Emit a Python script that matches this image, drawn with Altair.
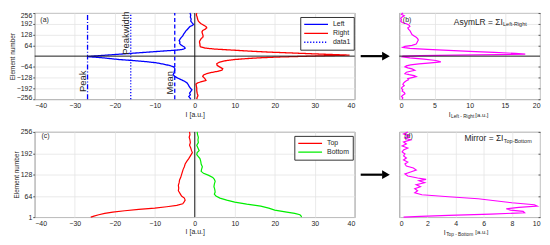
import altair as alt
import pandas as pd

# ---------------- data ----------------
# panel (a): intensity profiles vs element number (-256..256)
left_elem = [256, 244, 232, 220, 208, 196, 188, 182, 176, 168, 160, 150, 140, 130, 120, 110, 100, 92, 84, 76,
             68, 60, 54, 48, 44, 40, 36, 30, 24, 18, 12, 6, 0, -3, -6, -10, -15, -20, -26, -33,
             -40, -48, -56, -64, -72, -80, -90, -100, -110, -120, -130, -140, -150, -160, -170, -180, -190, -200, -210, -220,
             -230, -240, -248, -256]
left_val = [-1.2, -1.0, -1.1, -0.9, -1.0, -0.6, -0.3, -0.6, -1.2, -1.5, -1.8, -2.2, -2.5, -2.8, -3.0, -3.4, -3.7, -3.9, -3.7, -3.8,
            -3.5, -3.0, -2.6, -2.4, -2.6, -3.0, -4.5, -8.0, -11.5, -15.0, -18.5, -22.0, -25.5, -26.8, -25.0, -23.0, -21.0, -19.0, -15.5, -12.0,
            -9.5, -7.8, -6.2, -5.3, -5.0, -5.0, -5.1, -5.2, -5.4, -5.0, -4.3, -3.4, -2.5, -1.9, -1.6, -1.4, -1.1, -0.7, -1.0, -1.3,
            -1.1, -1.5, -1.2, -1.0]
right_elem = [256, 244, 232, 220, 208, 200, 192, 184, 176, 168, 160, 152, 144, 136, 128, 120, 112, 104, 96, 88,
              80, 72, 64, 56, 48, 42, 36, 30, 24, 18, 12, 6, 2, -2, -5, -9, -14, -20, -28, -37,
              -45, -55, -65, -75, -83, -90, -97, -104, -112, -120, -128, -136, -144, -150, -158, -166, -176, -190, -205, -220,
              -235, -245, -256]
right_val = [0.5, 0.4, 0.6, 0.7, 0.9, 1.2, 1.6, 2.2, 2.8, 3.0, 2.6, 2.0, 1.8, 1.9, 2.0, 2.1, 2.0, 1.6, 1.4, 1.2,
             1.2, 1.3, 1.3, 1.4, 2.5, 5.0, 9.3, 13.5, 18.5, 25.0, 31.5, 38.7, 32.0, 26.0, 21.5, 17.0, 13.4, 10.0, 7.5, 6.1,
             5.5, 5.6, 6.3, 7.0, 6.8, 5.8, 4.2, 3.0, 2.2, 2.0, 2.3, 2.6, 2.8, 2.0, 0.8, 0.3, 0.4, 0.5, 0.5, 0.6,
             0.8, 0.6, 0.5]
peak_x = -26.8
peakwidth_x = -16.0
mean_x = -5.0

# panel (b): AsymLR
asym_elem = [256, 248, 240, 232, 224, 216, 208, 200, 192, 184, 176, 168, 160, 152, 144, 136, 128, 120, 112, 104,
             96, 88, 80, 72, 64, 58, 52, 46, 40, 34, 28, 22, 16, 12, 9, 6, 3, 0, -4, -10,
             -18, -26, -34, -40, -46, -52, -58, -64, -70, -76, -84, -90, -96, -104, -110, -116, -122, -128, -134, -140,
             -146, -152, -160, -168, -176, -184, -192, -200, -208, -216, -224, -232, -240, -248, -256]
asym_val = [0.5, 0.3, 0.7, 0.4, 0.2, 0.3, 0.2, 0.4, 1.0, 1.4, 1.5, 1.2, 1.3, 1.5, 1.6, 1.7, 1.8, 2.1, 2.4, 2.6,
            2.7, 2.6, 2.5, 2.4, 1.8, 0.8, 0.5, 1.5, 4.0, 7.0, 10.0, 13.5, 16.5, 17.9, 14.0, 8.0, 3.0, 0.5, 0.4, 1.5,
            3.5, 5.2, 5.9, 4.5, 2.8, 1.6, 1.0, 0.8, 1.2, 1.8, 2.2, 1.6, 1.0, 0.8, 1.4, 2.1, 2.4, 1.8, 1.2, 1.3,
            1.0, 0.8, 0.6, 0.5, 0.7, 0.4, 0.3, 0.5, 0.4, 0.7, 0.8, 0.5, 0.3, 0.5, 0.4]

# panel (c): Top / Bottom (element 1..256)
top_elem = [256, 248, 240, 232, 224, 216, 208, 200, 194, 188, 182, 176, 168, 160, 152, 144, 136, 128, 120, 112,
            104, 96, 88, 80, 72, 64, 58, 52, 46, 41, 36, 32, 28, 24, 20, 16, 12, 8, 4, 1]
top_val = [-1.3, -1.2, -1.4, -1.2, -1.1, -1.3, -1.0, -0.8, -0.6, -0.9, -1.2, -1.5, -2.0, -2.4, -2.6, -2.9, -3.1, -3.3, -3.5, -3.8,
           -3.9, -4.1, -4.0, -4.1, -3.7, -3.3, -2.6, -2.4, -2.7, -3.0, -4.5, -7.0, -10.0, -14.0, -17.5, -20.5, -22.5, -24.0, -25.2, -26.0]
bottom_elem = [256, 248, 240, 232, 224, 216, 208, 200, 194, 188, 182, 176, 168, 160, 152, 144, 138, 132, 126, 120,
               114, 108, 100, 92, 84, 76, 70, 64, 58, 52, 46, 40, 34, 28, 22, 16, 12, 8, 4, 1]
bottom_val = [0.6, 0.7, 0.9, 0.8, 0.9, 0.5, 0.8, 1.1, 0.6, 0.5, 0.9, 1.3, 1.5, 1.6, 1.9, 1.7, 1.6, 2.2, 3.5, 4.5,
              4.9, 5.1, 4.9, 4.8, 5.0, 5.1, 4.9, 5.3, 6.3, 8.0, 10.0, 13.0, 16.5, 18.5, 20.0, 23.0, 25.0, 26.3, 26.6, 26.7]

# panel (d): Mirror
mirror_elem = [256, 250, 244, 238, 232, 226, 220, 214, 208, 202, 196, 190, 184, 178, 172, 166, 160, 154, 148, 142,
               136, 130, 124, 118, 114, 110, 104, 98, 92, 86, 80, 74, 68, 62, 56, 50, 44, 38, 34, 30,
               26, 22, 18, 14, 10, 6, 3, 1]
mirror_val = [0.6, 0.3, 0.7, 0.4, 0.8, 0.3, 0.5, 0.2, 0.6, 0.3, 0.2, 0.4, 0.3, 0.5, 0.3, 0.6, 0.4, 0.5, 1.0, 1.2,
              0.8, 0.4, 0.6, 1.3, 1.9, 1.4, 1.8, 1.2, 1.5, 1.1, 1.3, 1.1, 1.6, 3.5, 5.6, 6.8, 8.0, 9.6, 9.8, 8.5,
              7.6, 7.9, 8.8, 8.9, 6.5, 3.5, 1.5, 0.3]

# ticks
a_xticks = [-40, -30, -20, -10, 0, 10, 20, 30, 40]
a_yticks = [-256, -192, -128, -64, 64, 128, 192, 256]
c_yticks = [1, 64, 128, 192, 256]
b_xticks = [0, 5, 10, 15, 20]
d_xticks = [0, 2, 4, 6, 8, 10]
arrow_b_elem = 0
arrow_d_elem = 128

# ---------------- layout ----------------
W_A, H_A = 323, 87
W_B = 142
H_C = 86
FONT = "Liberation Sans"
TXT = "#262626"
BLUE, RED, GREEN, MAG = "#0000ff", "#ff0000", "#00ee00", "#ff00ff"


def long_df(parts):
    rows = []
    for name, el, va in parts:
        for e, v in zip(el, va):
            rows.append({"series": name, "elem": e, "val": v})
    return pd.DataFrame(rows)


def txt(df, **kw):
    return alt.Chart(df).mark_text(font=FONT, color=TXT, **kw)


def side_axis(vals):
    return alt.Axis(values=vals, orient="right", labels=False, title=None, tickSize=2,
                    offset=-2, domain=False, grid=True)


def x_axis(vals, title):
    return alt.Axis(values=vals, title=title, ticks=False, labelFontSize=7, titleFontSize=7,
                    titlePadding=2, labelPadding=2, grid=True, domain=False)


# ---------- panel (a) ----------
xa = alt.X("val:Q", scale=alt.Scale(domain=[-40, 40], nice=False, zero=False), axis=x_axis(a_xticks, "I [a.u.]"))
ya = alt.Y("elem:Q", scale=alt.Scale(domain=[-256, 256], nice=False),
           axis=alt.Axis(values=a_yticks, title="Element number", labelFontSize=7, titleFontSize=6.5,
                         titlePadding=1, labelPadding=1, tickSize=2, labelFlush=True, labelFlushOffset=1,
                         grid=True, domain=False))
vline = [-256, 256]
df_a = long_df([("Left", left_elem, left_val), ("Right", right_elem, right_val),
                ("data1", vline, [peakwidth_x, peakwidth_x]), ("Peak", vline, [peak_x, peak_x]),
                ("Mean", vline, [mean_x, mean_x])])
a_dom = ["Left", "Right", "data1", "Peak", "Mean"]
leg_a = alt.Legend(title=None, orient="none", legendX=W_A - 55, legendY=4, values=["Left", "Right", "data1"],
                   symbolType="stroke", symbolSize=576, clipHeight=9, labelFontSize=7, symbolStrokeWidth=1.3,
                   strokeColor="#333", fillColor="white", padding=3, rowPadding=0, labelOffset=4, labelColor=TXT)
lines_a = alt.Chart(df_a).mark_line().encode(
    x=xa, y=ya, order="elem:Q",
    color=alt.Color("series:N", scale=alt.Scale(domain=a_dom, range=[BLUE, RED, BLUE, BLUE, BLUE]), legend=leg_a),
    strokeDash=alt.StrokeDash("series:N", scale=alt.Scale(domain=a_dom, range=[[1, 0], [1, 0], [1.2, 1.8], [5, 2, 1, 2], [4, 2.5]]), legend=leg_a),
    strokeWidth=alt.StrokeWidth("series:N", scale=alt.Scale(domain=a_dom, range=[1.3, 1.3, 0.9, 0.8, 0.8]), legend=None),
)
zero_h_a = alt.Chart(pd.DataFrame({"elem": [0]})).mark_rule(color="#1a1a1a", strokeWidth=1).encode(y=ya)
zero_v_a = alt.Chart(pd.DataFrame({"val": [0]})).mark_rule(color="#1a1a1a", strokeWidth=1).encode(x=xa)
ann_a = pd.DataFrame({"label": ["Peak", "Peakwidth", "Mean"], "val": [peak_x, peakwidth_x, mean_x], "elem": [-150, 137, -158]})
ann_a_t = txt(ann_a, angle=270, baseline="bottom", align="center", fontSize=9.5).encode(x=xa, y=ya, text="label:N")
lab_a = txt(pd.DataFrame({"label": ["(a)"], "val": [-38.6], "elem": [216]}), align="left", fontSize=7).encode(x=xa, y=ya, text="label:N")
panel_a = alt.layer(lines_a, zero_h_a, zero_v_a, ann_a_t, lab_a).properties(width=W_A, height=H_A)

# ---------- panel (b) ----------
xb = alt.X("val:Q", scale=alt.Scale(domain=[0, 20], nice=False), axis=x_axis(b_xticks, None))
yb = alt.Y("elem:Q", scale=alt.Scale(domain=[-256, 256], nice=False), axis=side_axis(a_yticks))
df_b = pd.DataFrame({"elem": asym_elem, "val": asym_val})
line_b = alt.Chart(df_b).mark_line(color=MAG, strokeWidth=1.2).encode(x=xb, y=yb, order="elem:Q")
zero_b = alt.Chart(pd.DataFrame({"elem": [0]})).mark_rule(color="#1a1a1a", strokeWidth=1).encode(y=yb)
lab_b = txt(pd.DataFrame({"label": ["(b)"], "val": [0.5], "elem": [216]}), align="left", fontSize=7).encode(x=xb, y=yb, text="label:N")
ttl_b = txt(pd.DataFrame({"label": ["AsymLR = ΣI"], "val": [14.7], "elem": [205]}), align="right", fontSize=8.5).encode(x=xb, y=yb, text="label:N")
sub_b = txt(pd.DataFrame({"label": ["Left-Right"], "val": [14.75], "elem": [190]}), align="left", fontSize=5.5).encode(x=xb, y=yb, text="label:N")
xt_b1 = txt(pd.DataFrame({"label": ["I"], "val": [7.3]}), align="right", fontSize=7).encode(x=xb, y=alt.value(H_A + 16), text="label:N")
xt_b2 = txt(pd.DataFrame({"label": ["Left - Right"], "val": [7.35]}), align="left", fontSize=4.8).encode(x=xb, y=alt.value(H_A + 18), text="label:N")
xt_b3 = txt(pd.DataFrame({"label": ["[a.u.]"], "val": [10.8]}), align="left", fontSize=6).encode(x=xb, y=alt.value(H_A + 15.5), text="label:N")
arr_b = pd.DataFrame({"elem": [arrow_b_elem]})
shaft_b = alt.Chart(arr_b).mark_rule(color="black", strokeWidth=2.2).encode(x=alt.value(-39), x2=alt.value(-17), y=yb)
head_b = alt.Chart(arr_b).mark_point(shape="triangle-right", filled=True, size=80, color="black", opacity=1).encode(x=alt.value(-13.5), y=yb)
panel_b = alt.layer(line_b, zero_b, lab_b, ttl_b, sub_b, xt_b1, xt_b2, xt_b3, shaft_b, head_b).properties(width=W_B, height=H_A)

# ---------- panel (c) ----------
xc = alt.X("val:Q", scale=alt.Scale(domain=[-40, 40], nice=False, zero=False), axis=x_axis(a_xticks, "I [a.u.]"))
yc = alt.Y("elem:Q", scale=alt.Scale(domain=[1, 256], nice=False, zero=False),
           axis=alt.Axis(values=c_yticks, title="Element number", labelFontSize=7, titleFontSize=6.5,
                         titlePadding=1, labelPadding=1, tickSize=2, grid=True, domain=False))
df_c = long_df([("Top", top_elem, top_val), ("Bottom", bottom_elem, bottom_val)])
leg_c = alt.Legend(title=None, orient="none", legendX=W_A - 61, legendY=4,
                   symbolType="stroke", symbolSize=576, clipHeight=9, labelFontSize=7, symbolStrokeWidth=1.3,
                   strokeColor="#333", fillColor="white", padding=3, rowPadding=0, labelOffset=4, labelColor=TXT)
lines_c = alt.Chart(df_c).mark_line(strokeWidth=1.2).encode(
    x=xc, y=yc, order="elem:Q",
    color=alt.Color("series:N", scale=alt.Scale(domain=["Top", "Bottom"], range=[RED, GREEN]), legend=leg_c),
)
zero_v_c = alt.Chart(pd.DataFrame({"val": [0]})).mark_rule(color="#1a1a1a", strokeWidth=1).encode(x=xc)
lab_c = txt(pd.DataFrame({"label": ["(c)"], "val": [-38.3], "elem": [244]}), align="left", fontSize=7).encode(x=xc, y=yc, text="label:N")
panel_c = alt.layer(lines_c, zero_v_c, lab_c).properties(width=W_A, height=H_C)

# ---------- panel (d) ----------
xd = alt.X("val:Q", scale=alt.Scale(domain=[0, 10], nice=False), axis=x_axis(d_xticks, None))
yd = alt.Y("elem:Q", scale=alt.Scale(domain=[1, 256], nice=False, zero=False), axis=side_axis(c_yticks))
df_d = pd.DataFrame({"elem": mirror_elem, "val": mirror_val})
line_d = alt.Chart(df_d).mark_line(color=MAG, strokeWidth=1.2).encode(x=xd, y=yd, order="elem:Q")
lab_d = txt(pd.DataFrame({"label": ["(d)"], "val": [0.35], "elem": [244]}), align="left", fontSize=7).encode(x=xd, y=yd, text="label:N")
ttl_d = txt(pd.DataFrame({"label": ["Mirror = ΣI"], "val": [7.4], "elem": [238]}), align="right", fontSize=8.5).encode(x=xd, y=yd, text="label:N")
sub_d = txt(pd.DataFrame({"label": ["Top-Bottom"], "val": [7.43], "elem": [229]}), align="left", fontSize=5.5).encode(x=xd, y=yd, text="label:N")
xt_d1 = txt(pd.DataFrame({"label": ["I"], "val": [3.3]}), align="right", fontSize=7).encode(x=xd, y=alt.value(H_C + 16), text="label:N")
xt_d2 = txt(pd.DataFrame({"label": ["Top - Bottom"], "val": [3.33]}), align="left", fontSize=4.8).encode(x=xd, y=alt.value(H_C + 18), text="label:N")
xt_d3 = txt(pd.DataFrame({"label": ["[a.u.]"], "val": [5.4]}), align="left", fontSize=6).encode(x=xd, y=alt.value(H_C + 15.5), text="label:N")
arr_d = pd.DataFrame({"elem": [arrow_d_elem]})
shaft_d = alt.Chart(arr_d).mark_rule(color="black", strokeWidth=2.2).encode(x=alt.value(-39), x2=alt.value(-17), y=yd)
head_d = alt.Chart(arr_d).mark_point(shape="triangle-right", filled=True, size=80, color="black", opacity=1).encode(x=alt.value(-13.5), y=yd)
panel_d = alt.layer(line_d, lab_d, ttl_d, sub_d, xt_d1, xt_d2, xt_d3, shaft_d, head_d).properties(width=W_B, height=H_C)

chart = (
    alt.concat(panel_a, panel_b, panel_c, panel_d, columns=2, spacing={"row": 33, "column": 45}, bounds="flush")
    .resolve_scale(color="independent", strokeDash="independent", strokeWidth="independent")
    .resolve_legend(color="independent", strokeDash="independent")
    .properties(padding={"left": 0, "top": 0, "right": 1, "bottom": 0}, background="white")
    .configure(font=FONT)
    .configure_view(stroke="#555555", strokeWidth=0.9)
    .configure_axis(labelColor=TXT, titleColor=TXT, gridColor="#e4e4e4", gridWidth=0.8, tickColor="#555555",
                    labelFont=FONT, titleFont=FONT, titleFontWeight="normal")
    .configure_legend(labelFont=FONT)
)

chart.save("out.html", embed_options={"renderer": "svg", "actions": False})
